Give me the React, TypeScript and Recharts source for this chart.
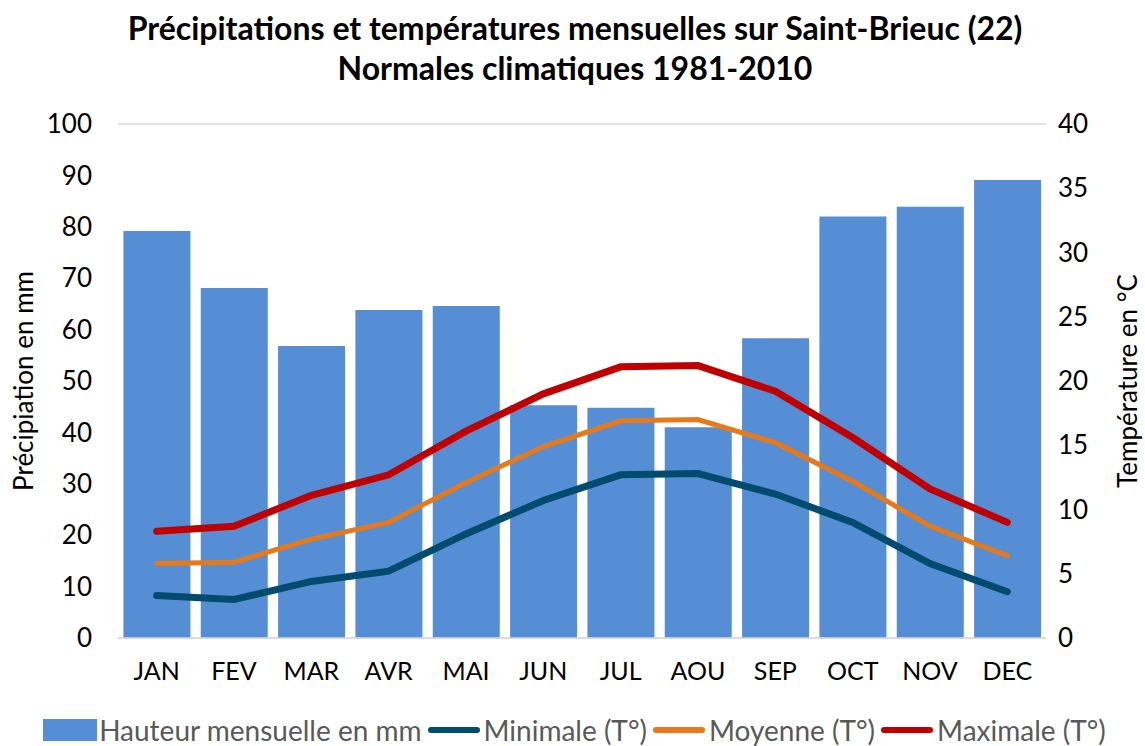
import React from 'react';
import {
  ComposedChart,
  Bar,
  Line,
  XAxis,
  YAxis,
  CartesianGrid,
} from 'recharts';

const MONTHS = ['JAN', 'FEV', 'MAR', 'AVR', 'MAI', 'JUN', 'JUL', 'AOU', 'SEP', 'OCT', 'NOV', 'DEC'];
const PRECIP = [79.2, 68.1, 56.8, 63.8, 64.6, 45.3, 44.8, 41.0, 58.3, 82.0, 83.9, 89.1];
const T_MIN = [3.3, 3.0, 4.4, 5.2, 8.1, 10.7, 12.7, 12.8, 11.2, 9.0, 5.8, 3.6];
const T_MOY = [5.8, 5.9, 7.7, 9.0, 12.1, 14.9, 16.9, 17.0, 15.2, 12.2, 8.7, 6.4];
const T_MAX = [8.3, 8.7, 11.1, 12.7, 16.1, 19.0, 21.1, 21.2, 19.2, 15.6, 11.6, 9.0];
const PRECIP_TICKS = [0, 10, 20, 30, 40, 50, 60, 70, 80, 90, 100];
const TEMP_TICKS = [0, 5, 10, 15, 20, 25, 30, 35, 40];

const FONT = 'Lato, "Noto Sans", sans-serif';
const C_BAR = '#558ED5';
const C_MIN = '#004B6E';
const C_MOY = '#E67A1A';
const C_MAX = '#C00000';

const data = MONTHS.map((m, i) => ({
  mois: m,
  precip: PRECIP[i],
  tmin: T_MIN[i],
  tmoy: T_MOY[i],
  tmax: T_MAX[i],
}));

const legendItems = [
  { label: 'Hauteur mensuelle en mm', color: C_BAR, kind: 'bar' },
  { label: 'Minimale (T°)', color: C_MIN, kind: 'line' },
  { label: 'Moyenne (T°)', color: C_MOY, kind: 'line' },
  { label: 'Maximale (T°)', color: C_MAX, kind: 'line' },
];

export default function App() {
  return (
    <div
      style={{
        position: 'absolute',
        left: 0,
        top: 0,
        width: 1145,
        height: 746,
        background: '#fff',
        fontFamily: FONT,
      }}
    >
      <div
        style={{
          position: 'absolute',
          top: 8,
          left: 0,
          width: 1150,
          textAlign: 'center',
          fontWeight: 700,
          fontSize: 32,
          lineHeight: '40px',
          color: '#000',
        }}
      >
        <div>Précipitations et températures mensuelles sur Saint-Brieuc (22)</div>
        <div>Normales climatiques 1981-2010</div>
      </div>

      <ComposedChart
        width={1145}
        height={746}
        data={data}
        margin={{ top: 124, right: 0, bottom: 0, left: 0 }}
        barCategoryGap="7%"
      >
        <CartesianGrid vertical={false} stroke="#D9D9D9" strokeWidth={1.5} />
        <XAxis
          dataKey="mois"
          height={108}
          tickLine={false}
          axisLine={{ stroke: '#D9D9D9', strokeWidth: 1.5 }}
          tickMargin={18}
          tick={{ fontSize: 25, fill: '#000', fontFamily: FONT }}
          interval={0}
        />
        <YAxis
          yAxisId="mm"
          width={118}
          domain={[0, 100]}
          ticks={PRECIP_TICKS}
          tickLine={false}
          axisLine={false}
          tickMargin={20}
          tick={{ fontSize: 26, fill: '#000', fontFamily: FONT }}
          label={{
            value: 'Précipiation en mm',
            angle: -90,
            position: 'insideLeft',
            offset: 24,
            style: { textAnchor: 'middle', fontSize: 26, fill: '#000', fontFamily: FONT },
          }}
        />
        <YAxis
          yAxisId="t"
          orientation="right"
          width={99}
          domain={[0, 40]}
          ticks={TEMP_TICKS}
          tickLine={false}
          axisLine={false}
          tickMargin={6}
          tick={{ fontSize: 26, fill: '#000', fontFamily: FONT }}
          label={{
            value: 'Température en °C',
            angle: -90,
            position: 'insideRight',
            offset: 17,
            style: { textAnchor: 'middle', fontSize: 26, fill: '#000', fontFamily: FONT },
          }}
        />
        <Bar yAxisId="mm" dataKey="precip" fill={C_BAR} isAnimationActive={false} />
        <Line
          yAxisId="t"
          type="linear"
          dataKey="tmin"
          stroke={C_MIN}
          strokeWidth={7}
          strokeLinecap="round"
          dot={false}
          isAnimationActive={false}
        />
        <Line
          yAxisId="t"
          type="linear"
          dataKey="tmoy"
          stroke={C_MOY}
          strokeWidth={5}
          strokeLinecap="round"
          dot={false}
          isAnimationActive={false}
        />
        <Line
          yAxisId="t"
          type="linear"
          dataKey="tmax"
          stroke={C_MAX}
          strokeWidth={7}
          strokeLinecap="round"
          dot={false}
          isAnimationActive={false}
        />
      </ComposedChart>

      <div
        style={{
          position: 'absolute',
          top: 713,
          left: 0,
          width: 1155,
          display: 'flex',
          justifyContent: 'center',
          alignItems: 'center',
          fontSize: 28,
          color: '#595959',
        }}
      >
        {legendItems.map((it) => (
          <div key={it.label} style={{ display: 'flex', alignItems: 'center', marginRight: 6 }}>
            {it.kind === 'bar' ? (
              <span style={{ display: 'inline-block', width: 54, height: 22, background: it.color, marginRight: 2 }} />
            ) : (
              <span
                style={{
                  display: 'inline-block',
                  width: 52,
                  height: 6,
                  borderRadius: 3,
                  background: it.color,
                  marginRight: 4,
                }}
              />
            )}
            <span>{it.label}</span>
          </div>
        ))}
      </div>
    </div>
  );
}
